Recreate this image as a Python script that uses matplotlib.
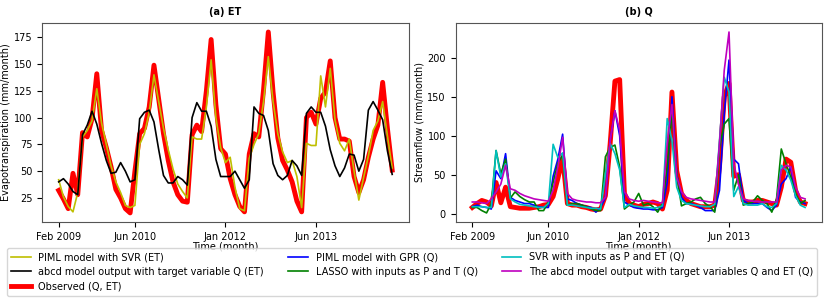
import matplotlib.pyplot as plt
import numpy as np

# monthly series, Feb 2009 onwards
et_observed = [32, 24, 15, 48, 28, 86, 82, 99, 141, 88, 72, 54, 33, 25, 15, 11,
               50, 85, 90, 110, 149, 117, 85, 60, 40, 28, 22, 21,
               84, 93, 87, 125, 173, 112, 71, 66, 43, 28, 17, 12,
               66, 85, 82, 126, 180, 124, 81, 60, 51, 40, 22, 12,
               100, 105, 94, 118, 124, 153, 100, 80, 80, 78, 45, 30,
               42, 63, 80, 93, 133, 90, 51]
et_piml_svr = [42, 26, 17, 12, 30, 82, 88, 97, 127, 95, 75, 55, 40, 30, 18, 16,
               18, 75, 85, 105, 140, 115, 90, 70, 52, 38, 31, 25,
               82, 80, 80, 110, 154, 100, 72, 58, 63, 35, 15, 13,
               62, 75, 85, 115, 157, 115, 85, 68, 58, 60, 45, 16,
               76, 74, 74, 139, 110, 146, 98, 76, 69, 80, 50, 23,
               44, 64, 88, 97, 115, 83, 53]
et_abcd_q = [40, 43, 38, 31, 28, 84, 93, 106, 94, 76, 60, 48, 49, 58, 50, 40,
             42, 99, 105, 107, 96, 70, 46, 39, 39, 45, 42, 37,
             100, 114, 106, 106, 92, 61, 45, 45, 45, 50, 42, 34,
             42, 110, 104, 102, 88, 57, 46, 42, 46, 60, 55, 46,
             104, 110, 105, 105, 92, 70, 55, 45, 53, 66, 65, 50,
             61, 107, 115, 107, 98, 69, 47]

q_observed = [8, 13, 17, 15, 10, 40, 14, 34, 9, 8, 7, 7, 7, 8, 9, 11,
              12, 22, 45, 72, 13, 11, 11, 9, 8, 6, 5, 6,
              23, 90, 170, 172, 26, 13, 11, 9, 12, 13, 15, 13,
              6, 30, 156, 55, 26, 17, 13, 11, 9, 9, 9, 11,
              60, 150, 167, 48, 50, 17, 15, 15, 17, 17, 15, 13,
              11, 34, 70, 66, 30, 15, 13]
q_piml_gpr = [9, 11, 9, 8, 6, 55, 45, 77, 21, 17, 15, 13, 13, 11, 9, 8,
              8, 48, 70, 102, 19, 17, 13, 11, 9, 8, 2, 8,
              21, 94, 132, 100, 15, 11, 8, 7, 6, 6, 5, 5,
              8, 40, 150, 51, 21, 13, 13, 11, 8, 4, 4, 4,
              30, 128, 197, 70, 64, 17, 13, 13, 13, 13, 8, 4,
              11, 38, 45, 60, 21, 15, 13]
q_lasso = [8, 8, 4, 1, 13, 81, 51, 70, 20, 28, 22, 18, 15, 15, 4, 4,
           15, 40, 65, 75, 11, 13, 13, 11, 9, 6, 4, 4,
           73, 85, 88, 60, 6, 11, 15, 26, 11, 13, 9, 2,
           13, 60, 130, 51, 10, 13, 15, 19, 21, 13, 9, 2,
           85, 115, 122, 30, 50, 11, 13, 15, 23, 17, 13, 2,
           19, 83, 64, 47, 26, 13, 17]
q_svr = [9, 9, 9, 8, 8, 81, 47, 64, 19, 15, 12, 11, 10, 9, 8, 8,
         13, 89, 72, 78, 11, 11, 10, 9, 8, 7, 7, 6,
         50, 90, 77, 56, 8, 12, 10, 9, 8, 8, 7, 8,
         10, 122, 94, 34, 17, 13, 12, 11, 10, 9, 9, 12,
         94, 175, 156, 22, 35, 13, 11, 11, 11, 13, 9, 8,
         13, 62, 56, 43, 23, 11, 8]
q_abcd_qet = [15, 15, 14, 13, 19, 28, 38, 62, 32, 30, 26, 23, 21, 19, 18, 17,
              16, 30, 60, 98, 26, 19, 17, 16, 15, 15, 14, 14,
              21, 94, 132, 107, 28, 19, 17, 16, 17, 16, 15, 14,
              14, 90, 140, 47, 28, 21, 19, 18, 17, 16, 15, 15,
              90, 184, 233, 64, 38, 19, 17, 16, 16, 15, 15, 15,
              15, 56, 62, 60, 34, 21, 19]

tick_pos = [0, 16, 35, 54]
tick_labels = ['Feb 2009', 'Jun 2010', 'Jan 2012', 'Jun 2013']

months = np.arange(len(et_observed))

plt.rcParams['font.size'] = 7

fig = plt.figure(figsize=(8.3, 3.02), dpi=100)
ax1 = fig.add_axes([0.0506, 0.265, 0.442, 0.659])
ax2 = fig.add_axes([0.549, 0.265, 0.441, 0.659])

ax1.plot(months, et_observed, color='r', linewidth=3.5, label='Observed (Q, ET)')
ax1.plot(months, et_piml_svr, color='y', linewidth=1.2, label='PIML model with SVR (ET)')
ax1.plot(months, et_abcd_q, color='k', linewidth=1.2, label='abcd model output with target variable Q (ET)')
ax1.set_title('(a) ET', fontweight='bold', fontsize=7)
ax1.set(xlabel='Time (month)', ylabel='Evapotranspiration (mm/month)')

ax2.plot(months, q_observed, color='r', linewidth=3.5)
ax2.plot(months, q_piml_gpr, color='b', linewidth=1.2, label='PIML model with GPR (Q)')
ax2.plot(months, q_lasso, color='g', linewidth=1.2, label='LASSO with inputs as P and T (Q)')
ax2.plot(months, q_svr, color='c', linewidth=1.2, label='SVR with inputs as P and ET (Q)')
ax2.plot(months, q_abcd_qet, color='m', linewidth=1.2, label='The abcd model output with target variables Q and ET (Q)')
ax2.set_title('(b) Q', fontweight='bold', fontsize=7)
ax2.set(xlabel='Time (month)', ylabel='Streamflow (mm/month)')

for ax in (ax1, ax2):
    ax.set_xticks(tick_pos)
    ax.set_xticklabels(tick_labels)
    ax.xaxis.labelpad = 0
    ax.yaxis.labelpad = 2
    for s in ax.spines.values():
        s.set_color('#555555')

h1, l1 = ax1.get_legend_handles_labels()
h2, l2 = ax2.get_legend_handles_labels()
handles = [h1[1], h1[2], h1[0]] + h2
labels = [l1[1], l1[2], l1[0]] + l2
fig.legend(handles, labels, loc='lower left', bbox_to_anchor=(0.003, 0.005),
           ncol=3, fontsize=7, columnspacing=2.5, handlelength=2.0)

fig.savefig('out.png')
